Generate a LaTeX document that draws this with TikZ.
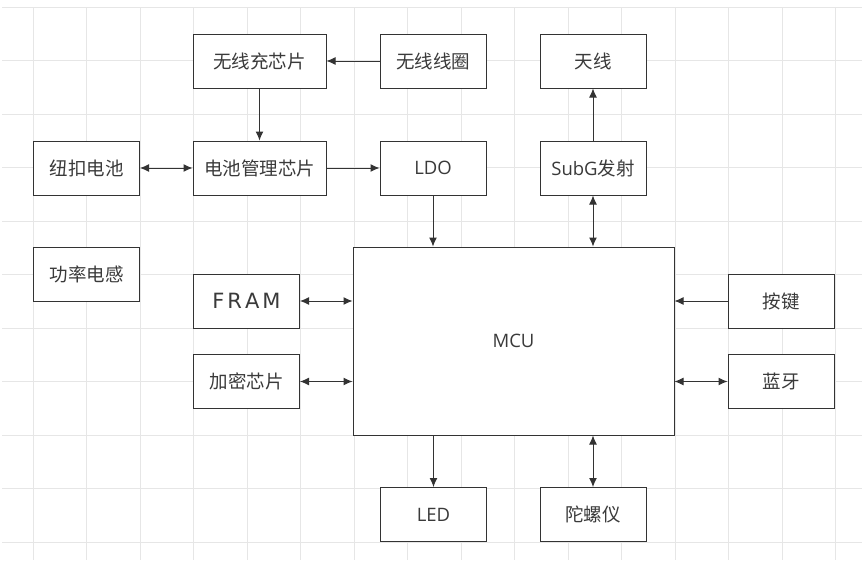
\documentclass[tikz,border=0pt]{standalone}
\usepackage{fontspec}
\setmainfont{Noto Sans CJK SC}
\newfontfamily\framfont{DejaVu Sans}
\newfontfamily\lat{Open Sans}
\usetikzlibrary{arrows.meta}
\definecolor{ink}{HTML}{333333}
\definecolor{txt}{HTML}{3A3A3A}
\definecolor{gridc}{HTML}{E6E6E6}
\tikzset{
  blk/.style={draw=ink, line width=1pt, fill=white, minimum width=106pt, minimum height=54pt, inner sep=0pt, font=\fontsize{18.5}{21}\selectfont, text=txt},
  wideblk/.style={blk, minimum width=133pt},
  conn/.style={draw=ink, line width=1pt, -{Latex[length=9pt,width=8pt]}},
  bconn/.style={draw=ink, line width=1pt, {Latex[length=9pt,width=8pt]}-{Latex[length=9pt,width=8pt]}},
}
\begin{document}
\begin{tikzpicture}[x=1pt,y=-1pt]
\useasboundingbox (0,0) rectangle (867,563);
\fill[white] (0,0) rectangle (867,563);
% grid
\foreach \i in {0,...,15} {
  \draw[gridc, line width=0.8pt] ({33+53.5*\i},7) -- ({33+53.5*\i},560);
}
\foreach \j in {0,...,10} {
  \draw[gridc, line width=0.8pt] (2,{7+53.5*\j}) -- (862,{7+53.5*\j});
}
% nodes
\node[wideblk] (wcc)  at (259.5,61)   {无线充芯片};
\node[blk] (coil) at (433,61)     {无线线圈};
\node[blk] (ant)  at (593,61)     {天线};
\node[blk] (bat)  at (86.5,168)   {纽扣电池};
\node[wideblk] (bms)  at (259.5,168)  {电池管理芯片};
\node[blk] (ldo)  at (433,168)    {\lat LDO};
\node[blk] (subg) at (593,168)    {{\lat SubG}发射};
\node[blk] (ind)  at (86.5,274)   {功率电感};
\node[blk, font=\framfont\fontsize{21}{24}\selectfont] (fram) at (246.5,301) {F\kern3pt R\kern3pt A\kern3pt M};
\node[blk] (enc)  at (246.5,381.5) {加密芯片};
\node[draw=ink, line width=1pt, fill=white, minimum width=321pt, minimum height=188pt, inner sep=0pt, font=\lat\fontsize{18.5}{21}\selectfont, text=txt] (mcu) at (513.5,341) {MCU};
\node[blk] (key)  at (781,301)    {按键};
\node[blk] (bt)   at (781,381.5)  {蓝牙};
\node[blk] (led)  at (433.5,514.5) {\lat LED};
\node[blk] (gyro) at (593,514.5)  {陀螺仪};
% connectors
\draw[conn] (coil) -- (wcc);
\draw[conn] (wcc) -- (bms);
\draw[bconn] (bat) -- (bms);
\draw[conn] (bms) -- (ldo);
\draw[conn] (subg) -- (ant);
\draw[conn] (ldo.south) -- (ldo.south |- mcu.north);
\draw[bconn] (subg.south) -- (subg.south |- mcu.north);
\draw[bconn] (fram.east) -- (fram.east -| mcu.west);
\draw[bconn] (enc.east) -- (enc.east -| mcu.west);
\draw[conn] (key.west) -- (key.west -| mcu.east);
\draw[bconn] (bt.west) -- (bt.west -| mcu.east);
\draw[conn] (mcu.south -| led.north) -- (led.north);
\draw[bconn] (mcu.south -| gyro.north) -- (gyro.north);
\end{tikzpicture}
\end{document}
